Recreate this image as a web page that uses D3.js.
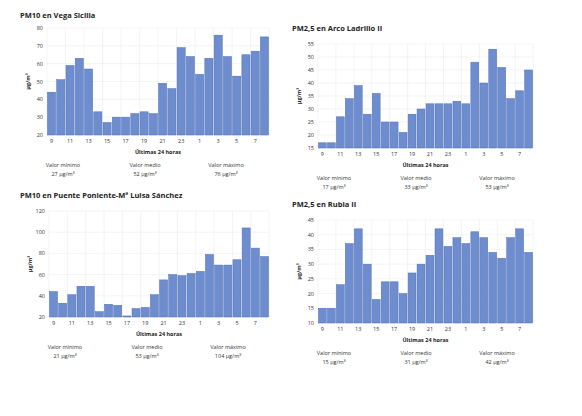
<!DOCTYPE html><html><head><meta charset="utf-8">
<script src="https://cdn.jsdelivr.net/npm/d3@7"></script>
<style>body{margin:0;background:#fff;font-family:"Open Sans",sans-serif}</style></head><body>
<svg id="c" width="582" height="416"></svg>
<script>
const hours=[9,10,11,12,13,14,15,16,17,18,19,20,21,22,23,0,1,2,3,4,5,6,7,8];
const tickHours=[9,11,13,15,17,19,21,23,1,3,5,7];
const vegaSicilia=[44,51,59,63,57,33,27,30,30,32,33,32,49,46,69,64,54,63,76,64,53,65,67,75];
const arcoLadrillo=[17,17,27,34,39,28,36,25,25,21,28,30,32,32,32,33,32,48,40,53,46,34,37,45];
const puentePoniente=[44,33,41,49,49,25,32,31,21,28,29,41,55,60,59,61,63,79,69,69,74,104,85,77];
const rubia=[15,15,23,37,42,30,18,24,24,20,27,30,33,42,36,39,37,41,39,34,32,39,42,34];
const titles=["PM10 en Vega Sicilia","PM2,5 en Arco Ladrillo II","PM10 en Puente Poniente-Mª Luisa Sánchez","PM2,5 en Rubia II"];
const stats=[["27","52","76"],["17","33","53"],["21","53","104"],["15","31","42"]];
const yDomains=[[20,80],[15,55],[20,120],[10,45]];
const yStep=[10,5,20,5];
const series=[vegaSicilia,arcoLadrillo,puentePoniente,rubia];
const boxes=[{x0:47,x1:269,y0:28,y1:135,tx:20,ty:18},{x0:318,x1:533,y0:44,y1:148,tx:292,ty:31},
{x0:49,x1:269,y0:211,y1:317,tx:20,ty:198},{x0:318,x1:533,y0:220,y1:323,tx:292,ty:207}];
const svg=d3.select("#c");
series.forEach((vals,i)=>{
 const b=boxes[i];
 const g=svg.append("g");
 g.append("text").attr("x",b.tx).attr("y",b.ty).attr("font-size",7.5).attr("font-weight","bold").attr("fill","#222").text(titles[i]);
 const x=d3.scaleBand().domain(d3.range(24)).range([b.x0,b.x1]).paddingInner(0.12).paddingOuter(0.05);
 const y=d3.scaleLinear().domain(yDomains[i]).range([b.y1,b.y0]);
 const ticks=d3.range(yDomains[i][0],yDomains[i][1]+0.1,yStep[i]);
 g.selectAll(".hg").data(ticks).join("line").attr("x1",b.x0).attr("x2",b.x1).attr("y1",d=>y(d)).attr("y2",d=>y(d)).attr("stroke","#ececec").attr("stroke-width",0.6);
 const step=x.step();
 g.selectAll(".vg").data(d3.range(0,25,2)).join("line").attr("x1",d=>b.x0+d*step).attr("x2",d=>b.x0+d*step).attr("y1",b.y0).attr("y2",b.y1).attr("stroke","#ececec").attr("stroke-width",0.6);
 g.selectAll(".yt").data(ticks).join("text").attr("x",b.x0-4).attr("y",d=>y(d)+2).attr("text-anchor","end").attr("font-size",5.5).attr("fill","#333").text(d=>d);
 g.selectAll("rect").data(vals).join("rect").attr("x",(d,j)=>x(j)).attr("width",x.bandwidth()).attr("y",d=>y(d)).attr("height",d=>b.y1-y(d)).attr("fill","#6d8dcf").attr("stroke","#4f6fb5").attr("stroke-width",0.5);
 g.selectAll(".xt").data(hours).join("text").filter((d,j)=>j%2==0).attr("x",(d,j)=>x(j*2)+x.bandwidth()/2).attr("y",b.y1+8).attr("text-anchor","middle").attr("font-size",5.5).attr("fill","#333").text(d=>d);
 g.append("text").attr("x",(b.x0+b.x1)/2).attr("y",b.y1+19).attr("text-anchor","middle").attr("font-size",5.5).attr("font-weight","bold").attr("fill","#222").text("Últimas 24 horas");
 g.append("text").attr("transform",`translate(${b.x0-17},${(b.y0+b.y1)/2}) rotate(-90)`).attr("text-anchor","middle").attr("font-size",5.5).attr("font-weight","bold").attr("fill","#222").text("µg/m³");
 const labs=["Valor mínimo","Valor medio","Valor máximo"];
 const cx=[b.x0+16,b.x0+98,b.x0+179];
 labs.forEach((l,k)=>{
  g.append("text").attr("x",cx[k]).attr("y",b.y1+32).attr("text-anchor","middle").attr("font-size",5.5).attr("fill","#333").text(l);
  g.append("text").attr("x",cx[k]).attr("y",b.y1+41).attr("text-anchor","middle").attr("font-size",5.5).attr("fill","#333").text(stats[i][k]+" µg/m³");
 });
});
</script></body></html>
